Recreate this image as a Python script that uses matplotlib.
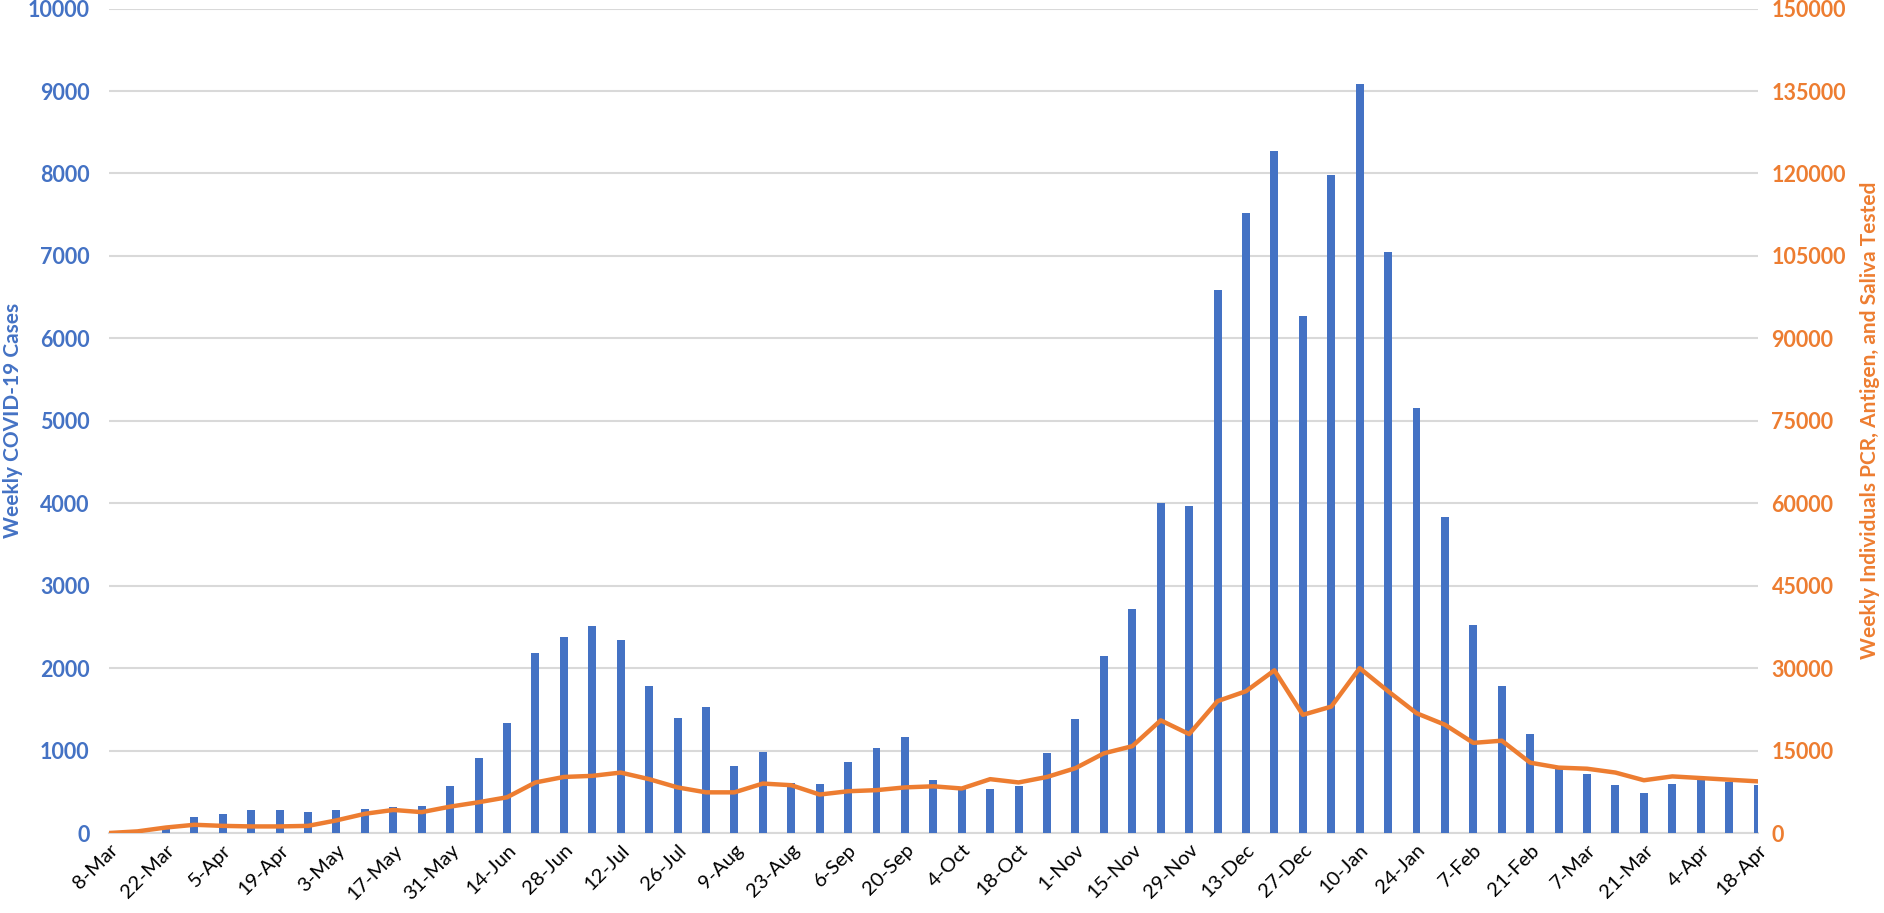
import matplotlib
matplotlib.use("Agg")
import matplotlib.pyplot as plt
import numpy as np

plt.rcParams['font.family'] = ['Lato', 'DejaVu Sans']

weeks = ["8-Mar","15-Mar","22-Mar","29-Mar","5-Apr","12-Apr","19-Apr","26-Apr","3-May","10-May",
         "17-May","24-May","31-May","7-Jun","14-Jun","21-Jun","28-Jun","5-Jul","12-Jul","19-Jul",
         "26-Jul","2-Aug","9-Aug","16-Aug","23-Aug","30-Aug","6-Sep","13-Sep","20-Sep","27-Sep",
         "4-Oct","11-Oct","18-Oct","25-Oct","1-Nov","8-Nov","15-Nov","22-Nov","29-Nov","6-Dec",
         "13-Dec","20-Dec","27-Dec","3-Jan","10-Jan","17-Jan","24-Jan","31-Jan","7-Feb","14-Feb",
         "21-Feb","28-Feb","7-Mar","14-Mar","21-Mar","28-Mar","4-Apr","11-Apr","18-Apr"]

cases = [2, 20, 80, 190, 230, 280, 280, 260, 280, 290,
         320, 330, 570, 910, 1340, 2180, 2380, 2510, 2340, 1780,
         1390, 1530, 810, 980, 610, 600, 860, 1030, 1170, 640,
         530, 540, 570, 970, 1380, 2150, 2720, 4000, 3970, 6590,
         7520, 8270, 6270, 7980, 9080, 7050, 5160, 3830, 2520, 1780,
         1200, 790, 720, 580, 490, 590, 640, 620, 580]

tested = [0, 300, 1000, 1500, 1300, 1200, 1200, 1300, 2300, 3500,
          4200, 3800, 4800, 5600, 6500, 9200, 10200, 10400, 11000, 9800,
          8300, 7400, 7400, 9000, 8700, 7000, 7600, 7800, 8300, 8500,
          8100, 9800, 9200, 10200, 11800, 14500, 15800, 20500, 18000, 24000,
          25800, 29600, 21500, 23000, 30000, 25800, 21800, 19700, 16400, 16800,
          12800, 11900, 11700, 11000, 9600, 10300, 10000, 9700, 9400]

tick_labels = weeks[::2]

blue = "#4472C4"
orange = "#ED7D31"

fig = plt.figure(figsize=(18.84, 9.13), dpi=100)
ax = fig.add_axes([0.0579, 0.0876, 0.875, 0.903])
x = np.arange(len(weeks))

ax.bar(x, cases, width=0.28, color=blue, zorder=3)
ax.set_xlim(0, len(weeks) - 1)
ax.set_ylim(0, 10000)
ax.set_yticks(np.arange(0, 10001, 1000))
ax.grid(axis='y', color='#D9D9D9', linewidth=1.5, zorder=0)
ax.set_axisbelow(True)
for s in ['top', 'right', 'left']:
    ax.spines[s].set_visible(False)
ax.spines['bottom'].set_color('#D9D9D9')
ax.spines['bottom'].set_linewidth(1.5)

ax.set_xticks(x[::2])
ax.set_xticklabels(tick_labels, rotation=45, ha='right', va='top',
                   rotation_mode='anchor', fontsize=14.5, color='black')
ax.tick_params(axis='x', length=0, pad=6)
ax.tick_params(axis='y', length=0, pad=14, labelsize=15.5, labelcolor=blue)
for t in ax.get_yticklabels():
    t.set_fontweight('bold')
ax.set_ylabel("Weekly COVID-19 Cases", color=blue, fontsize=15,
              fontweight='bold')
ax.yaxis.set_label_coords(-0.052, 0.5)

ax2 = ax.twinx()
ax2.plot(x, tested, color=orange, linewidth=3.2, zorder=4, solid_joinstyle='round')
ax2.set_ylim(0, 150000)
ax2.set_yticks(np.arange(0, 150001, 15000))
for s in ['top', 'right', 'left', 'bottom']:
    ax2.spines[s].set_visible(False)
ax2.tick_params(axis='y', length=0, pad=10, labelsize=15.5, labelcolor=orange)
for t in ax2.get_yticklabels():
    t.set_fontweight('bold')
ax2.set_ylabel("Weekly Individuals PCR, Antigen, and Saliva Tested", color=orange,
               fontsize=15, fontweight='bold')
ax2.yaxis.set_label_coords(1.062, 0.5)

fig.savefig("out.png", dpi=100)
